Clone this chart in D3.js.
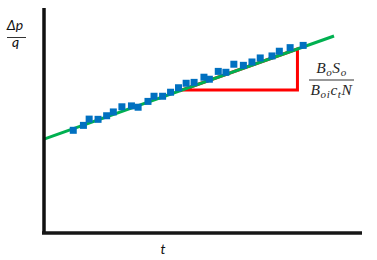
<!DOCTYPE html>
<html>
<head>
<meta charset="utf-8">
<script src="https://cdn.jsdelivr.net/npm/d3@7"></script>
<style>
  body { margin: 0; background: #fff; }
  svg { display: block; }
</style>
</head>
<body>
<div id="chart"></div>
<script>
// data: time vs normalised pressure drop (no ticks shown, arbitrary units)
var tValues = [9.2, 12.4, 14.2, 17.0, 19.7, 21.8, 24.5, 27.5, 29.6, 32.7, 34.6, 37.3, 39.8, 42.3,
               44.7, 47.2, 50.3, 52.0, 54.8, 57.2, 59.7, 62.7, 65.4, 68.0, 71.7, 74.0, 77.4, 81.5];
var dpqValues = [45.4, 47.6, 50.4, 50.3, 51.9, 53.6, 55.9, 56.3, 55.7, 58.3, 60.6, 60.6, 62.4, 64.4,
                 66.4, 66.8, 69.1, 68.2, 71.7, 71.3, 74.9, 74.4, 75.9, 77.7, 78.6, 80.7, 82.3, 83.3];

// fitted straight line
var fitT = [0, 91.2];
var fitY = [41.5, 87.5];

// slope triangle (base level and horizontal extent)
var triT = [43.4, 79.7];
var triBase = 63.4;

var svgWidth = 377, svgHeight = 260;
var margin = {top: 8, right: 15, bottom: 28, left: 44};
var width = svgWidth - margin.left - margin.right;
var height = svgHeight - margin.top - margin.bottom;

var svg = d3.select('#chart').append('svg')
    .attr('width', svgWidth).attr('height', svgHeight);

var g = svg.append('g')
    .attr('transform', 'translate(' + margin.left + ' ' + margin.top + ')');

var x = d3.scaleLinear().domain([0, 100]).range([0, width]);
var y = d3.scaleLinear().domain([0, 100]).range([height, 0]);

var fitAt = function(t) {
    return fitY[0] + (fitY[1] - fitY[0]) * (t - fitT[0]) / (fitT[1] - fitT[0]);
};

// red slope triangle
var tri = [[triT[0], triBase], [triT[1], triBase], [triT[1], fitAt(triT[1])], [triT[0], fitAt(triT[0])]];
g.append('path')
    .attr('d', d3.line().x(function(d) { return x(d[0]); }).y(function(d) { return y(d[1]); })(tri) + 'Z')
    .attr('fill', 'none')
    .attr('stroke', '#ff0000')
    .attr('stroke-width', 3);

// green fit line
g.append('line')
    .attr('x1', x(fitT[0])).attr('y1', y(fitY[0]))
    .attr('x2', x(fitT[1])).attr('y2', y(fitY[1]))
    .attr('stroke', '#00b050')
    .attr('stroke-width', 3);

// blue markers
var ms = 7;
g.selectAll('rect.pt')
    .data(tValues)
    .enter().append('rect')
    .attr('class', 'pt')
    .attr('x', function(d) { return x(d) - ms / 2; })
    .attr('y', function(d, i) { return y(dpqValues[i]) - ms / 2; })
    .attr('width', ms).attr('height', ms)
    .attr('fill', '#0070c0');

// axes (plain thick lines, no ticks)
g.append('line')
    .attr('x1', 0).attr('y1', 0).attr('x2', 0).attr('y2', height + 2)
    .attr('stroke', '#111').attr('stroke-width', 3.5);
g.append('line')
    .attr('x1', -2).attr('y1', height + 1).attr('x2', width).attr('y2', height + 1)
    .attr('stroke', '#161616').attr('stroke-width', 3.5);

// y label  Δp / q
var sans = 'Lato, "Open Sans", sans-serif';
svg.append('text')
    .attr('x', 15).attr('y', 30)
    .attr('text-anchor', 'middle')
    .attr('font-family', sans).attr('font-style', 'italic').attr('font-size', 14)
    .attr('fill', '#111')
    .text('Δp');
svg.append('line')
    .attr('x1', 7).attr('x2', 26).attr('y1', 37.5).attr('y2', 37.5)
    .attr('stroke', '#333').attr('stroke-width', 1);
svg.append('text')
    .attr('x', 15.5).attr('y', 47)
    .attr('text-anchor', 'middle')
    .attr('font-family', sans).attr('font-style', 'italic').attr('font-size', 14)
    .attr('fill', '#111')
    .text('q');

// x label
svg.append('text')
    .attr('x', 163).attr('y', 254)
    .attr('text-anchor', 'middle')
    .attr('font-family', sans).attr('font-style', 'italic').attr('font-size', 14)
    .attr('fill', '#111')
    .text('t');

// slope formula  BoSo / (Boi ct N)
var serif = '"Liberation Serif", "DejaVu Serif", serif';
var fx = 331.5;
function formula(parts, yPos) {
    var t = svg.append('text')
        .attr('x', fx).attr('y', yPos)
        .attr('text-anchor', 'middle')
        .attr('font-family', serif).attr('font-style', 'italic').attr('font-size', 15.5)
        .attr('letter-spacing', 0.6)
        .attr('fill', '#262626');
    parts.forEach(function(p) {
        var s = t.append('tspan').text(p[0]);
        if (p[1]) s.attr('font-size', 11).attr('dy', 3);
        else s.attr('dy', p[2] ? -3 : 0);
    });
}
formula([['B'], ['o', true], ['S', false, true], ['o', true]], 72.5);
svg.append('line')
    .attr('x1', 309).attr('x2', 354).attr('y1', 80).attr('y2', 80)
    .attr('stroke', '#333').attr('stroke-width', 1);
formula([['B'], ['oi', true], ['c', false, true], ['t', true], ['N', false, true]], 95);
</script>
</body>
</html>
